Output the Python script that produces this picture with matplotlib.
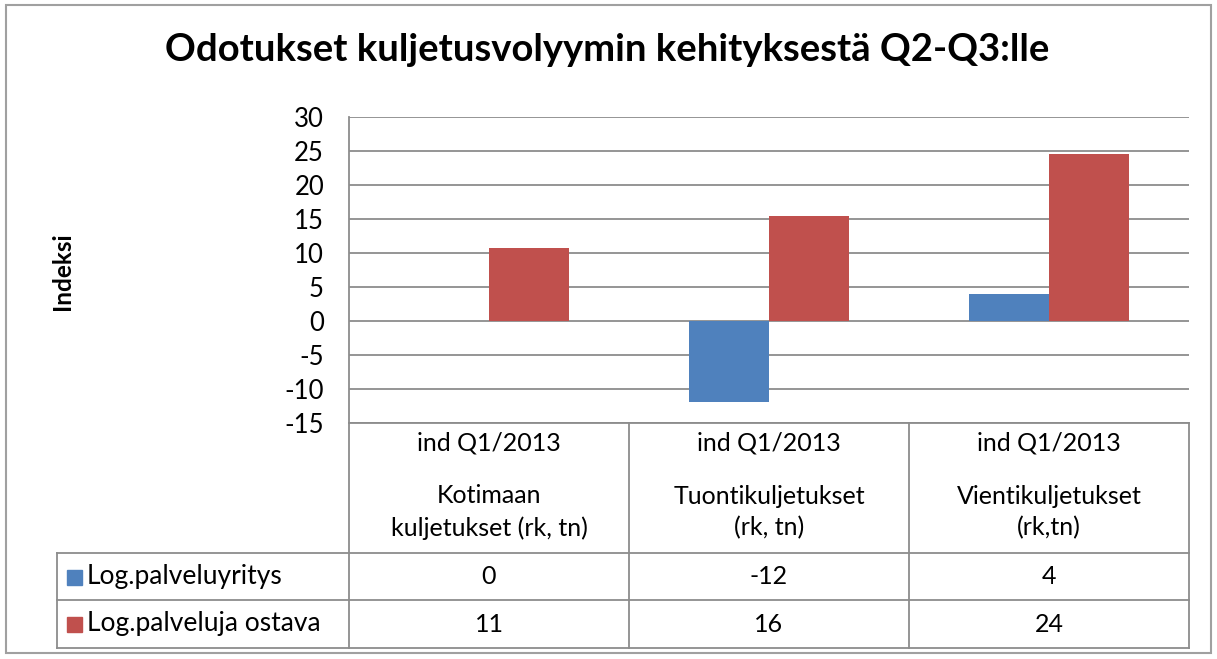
import matplotlib
matplotlib.use("Agg")
import matplotlib.pyplot as plt
import numpy as np
from matplotlib.patches import Rectangle

plt.rcParams['font.family'] = ['Lato', 'DejaVu Sans']

# data
cat_top = ["ind Q1/2013", "ind Q1/2013", "ind Q1/2013"]
categories = ["Kotimaan\nkuljetukset (rk, tn)",
              "Tuontikuljetukset\n(rk, tn)",
              "Vientikuljetukset\n(rk,tn)"]
series_names = ["Log.palveluyritys", "Log.palveluja ostava"]
palveluyritys = [0, -11.9, 3.9]
ostava = [10.8, 15.4, 24.5]
table_rows = [["0", "-12", "4"], ["11", "16", "24"]]
yticks = [-15, -10, -5, 0, 5, 10, 15, 20, 25, 30]
colors = ["#4F81BD", "#C0504D"]
title = "Odotukset kuljetusvolyymin kehityksestä Q2-Q3:lle"

W, H = 1217, 659
fig = plt.figure(figsize=(W / 100, H / 100), dpi=100)

def rect(l, t, r, b):
    return [l / W, 1 - b / H, (r - l) / W, (b - t) / H]

gray = "#8c8c8c"

# plot area
px_l, px_r, px_t, px_b = 349, 1189, 117, 423
ax = fig.add_axes(rect(px_l, px_t, px_r, px_b))
x = np.arange(len(categories))
w = 0.285
ax.bar(x - w / 2, palveluyritys, w, color=colors[0], zorder=3)
ax.bar(x + w / 2, ostava, w, color=colors[1], zorder=3)
ax.set_xlim(-0.5, len(categories) - 0.5)
ax.set_ylim(-15, 30)
ax.set_yticks(yticks)
ax.set_yticklabels([str(t) for t in yticks], fontsize=18.5)
ax.set_xticks([])
ax.tick_params(axis='y', length=0, pad=18)
ax.grid(axis='y', color=gray, lw=1.3, zorder=0)
for s in ['top', 'right', 'bottom']:
    ax.spines[s].set_visible(False)
ax.spines['left'].set_color(gray)
ax.spines['left'].set_linewidth(1.3)

# overlay in pixel coords for table, title, border
ov = fig.add_axes([0, 0, 1, 1], zorder=5)
ov.set_xlim(0, W)
ov.set_ylim(H, 0)
ov.axis('off')
ov.patch.set_alpha(0)

ov.add_patch(Rectangle((6, 5), 1205, 648, fill=False, ec="#a0a0a0", lw=1.5))
ov.text(607, 50, title, ha='center', va='center', fontsize=27.5, fontweight='bold')
ov.text(62, 271, "Indeksi", rotation=90, ha='center', va='center',
        fontsize=17.5, fontweight='bold')

cw = (px_r - px_l) / len(categories)
row_y = [423, 553, 600, 648]
leg_l = 57
# header row
ov.plot([px_l, px_r], [row_y[0], row_y[0]], color=gray, lw=1.3)
for i in range(len(categories) + 1):
    xx = px_l + i * cw
    ov.plot([xx, xx], [row_y[0], row_y[3]], color=gray, lw=1.3)
for yy in row_y[1:]:
    ov.plot([leg_l, px_r], [yy, yy], color=gray, lw=1.3)
ov.plot([leg_l, leg_l], [row_y[1], row_y[3]], color=gray, lw=1.3)

for i, (t, c) in enumerate(zip(cat_top, categories)):
    xc = px_l + (i + 0.5) * cw
    ov.text(xc, 443, t, ha='center', va='center', fontsize=18)
    ov.text(xc, 512, c, ha='center', va='center', fontsize=18, linespacing=1.45)

for r, (name, vals) in enumerate(zip(series_names, table_rows)):
    yc = (row_y[r + 1] + row_y[r + 2]) / 2
    ov.add_patch(Rectangle((67, yc - 7), 15, 15, color=colors[r]))
    ov.text(87, yc, name, ha='left', va='center', fontsize=19)
    for i, v in enumerate(vals):
        ov.text(px_l + (i + 0.5) * cw, yc, v, ha='center', va='center', fontsize=18)

fig.savefig("out.png", dpi=100)
